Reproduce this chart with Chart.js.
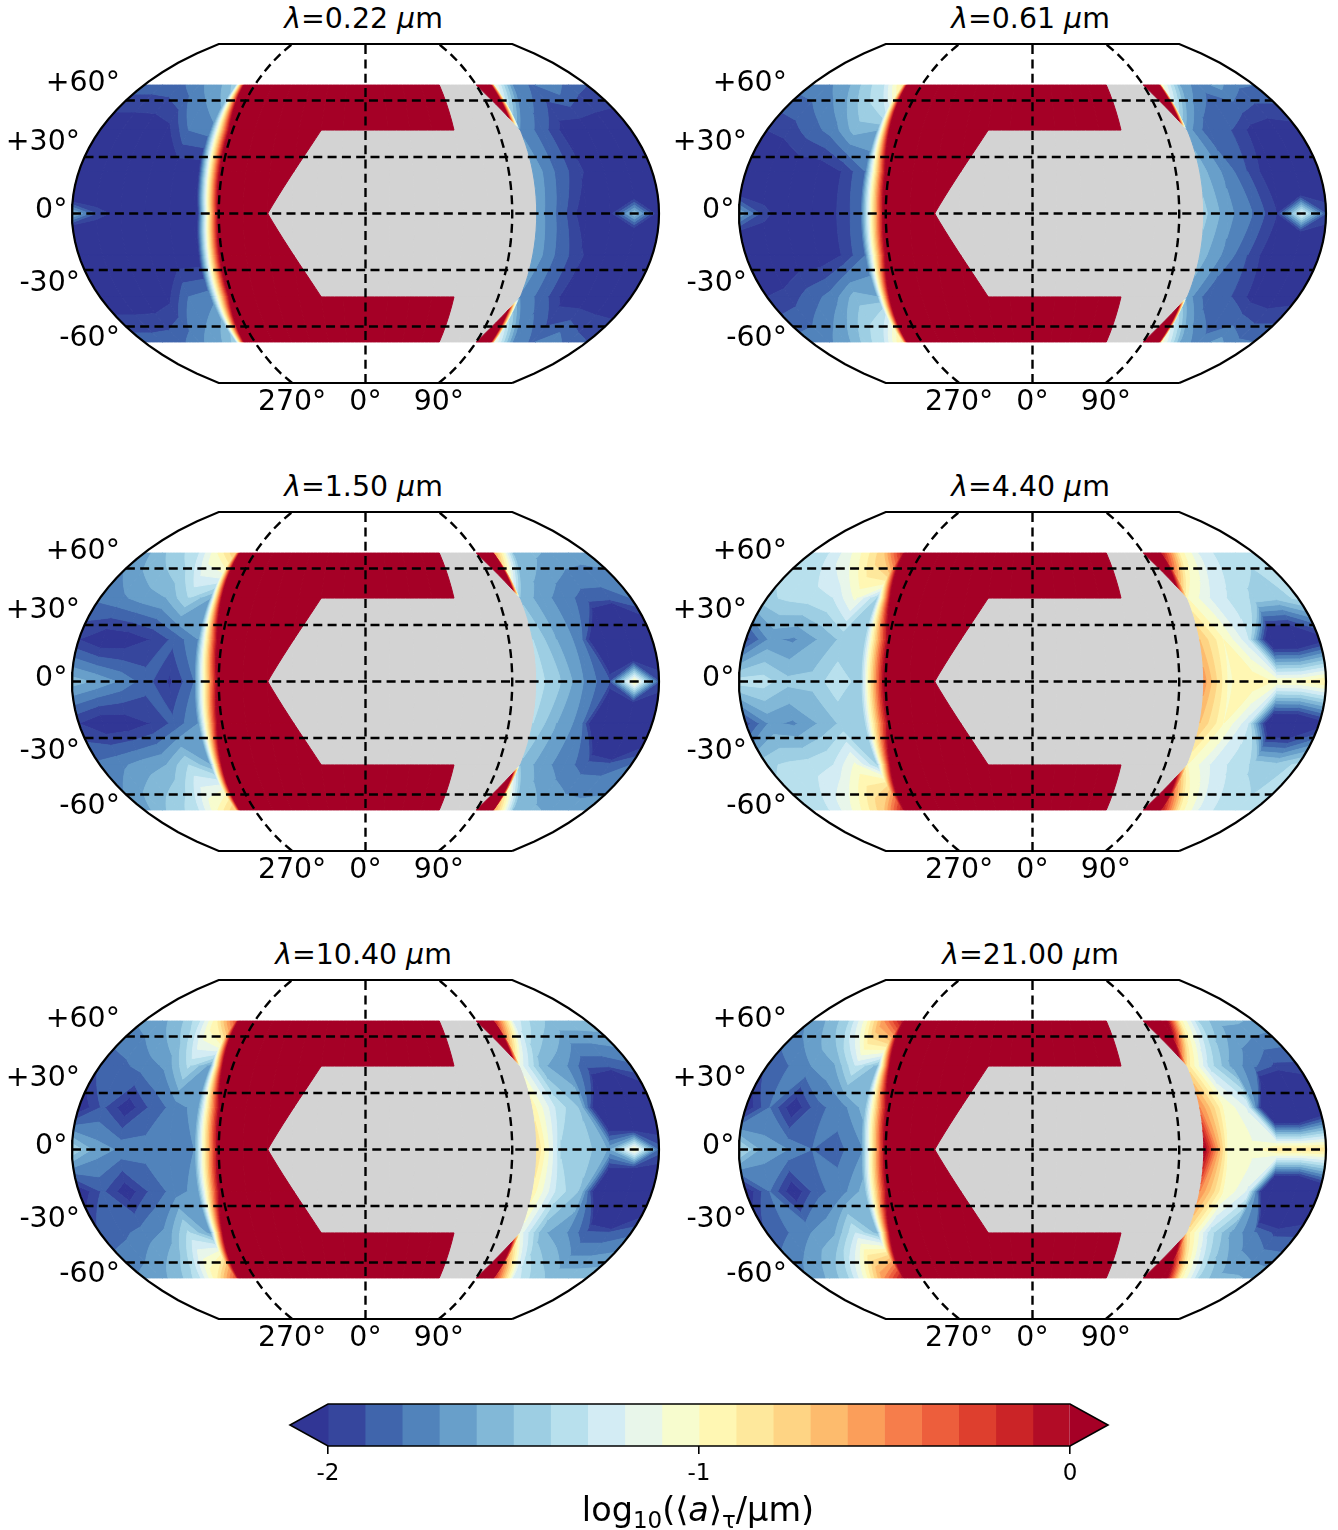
<!DOCTYPE html>
<html lang="en">
<head>
  <meta charset="UTF-8">
  <title>Grain size maps</title>
  <script src="https://cdn.jsdelivr.net/npm/chart.js"></script>
  <style>
    html, body { margin: 0; padding: 0; background: #fff; }
    body { position: relative; width: 1338px; height: 1530px; overflow: hidden; font-family: "DejaVu Sans", sans-serif; color: #000; }
    canvas { position: absolute; display: block; }
    .title { position: absolute; width: 667px; text-align: center; font-size: 28.4px; line-height: 32px; white-space: pre; }
    .cblabel { position: absolute; left: 270px; width: 856px; top: 1491px; text-align: center; font-size: 33.5px; line-height: 38px; white-space: nowrap; }
    .cblabel sub { font-size: 23px; line-height: 0; vertical-align: -7px; }
  </style>
</head>
<body>
<script>
// grid nodes of the model output
const lons = [-180, -165, -150, -135, -120, -105, -90, -75, -60, -45, -30, -15, 0, 15, 30, 45, 60, 75, 90, 105, 120, 135, 150, 165, 180];
const lats = [68.2, 44.3, 22.3, 0, -22.3, -44.3, -68.2];
const N = null; // no data, drawn grey
const R = 2;    // saturated dayside, above the top level

const wavelengths = ['0.22', '0.61', '1.50', '4.40', '10.40', '21.00'];

const levels = [-2, -1.9, -1.8, -1.7, -1.6, -1.5, -1.4, -1.3, -1.2, -1.1, -1, -0.9, -0.8, -0.7, -0.6, -0.5, -0.4, -0.3, -0.2, -0.1, 0];
const bandColors = ['rgb(54,70,157)', 'rgb(64,101,172)', 'rgb(81,131,187)', 'rgb(104,159,202)', 'rgb(130,184,215)',
  'rgb(157,206,227)', 'rgb(184,224,237)', 'rgb(211,236,244)', 'rgb(232,246,234)', 'rgb(247,252,206)',
  'rgb(255,247,179)', 'rgb(254,232,156)', 'rgb(254,212,132)', 'rgb(253,187,109)', 'rgb(251,158,90)',
  'rgb(246,125,75)', 'rgb(237,94,60)', 'rgb(222,63,46)', 'rgb(203,36,39)', 'rgb(178,12,38)'];
const underColor = 'rgb(49,54,149)';
const overColor = 'rgb(165,0,38)';

const parallels = [60, 30, 0, -30, -60];
const meridians = [-90, 0, 90];
const meridianLabels = ['270°', '0°', '90°'];
const latLabels = ['+60°', '+30°', '0°', '-30°', '-60°'];
const cbTicks = [-2, -1, 0];

// lambda = 0.22
const a_r68 = [-1.85, -1.85, -1.83, -1.72, -1.65, -1.45, 2, R, R, R, R, R, R, R, R, R, R, N, 4, -1.1, -1.72, -1.82, -1.72, -1.85, -1.9];
const a_r44 = [-2.1, -2.1, -2.1, -2.05, -1.8, -1.75, 0.3, R, R, R, R, R, R, R, R, R, R, N, N, -1.72, -1.85, -2.05, -2.1, -2.1, -2.1];
const a_r22 = [-3.2, -2.6, -2.1, -2.1, -2.1, -2.1, 0.2, R, R, R, N, N, N, N, N, N, N, N, N, -1.62, -1.82, -1.98, -2.15, -3, -2.5];
const a_r0 = [-1.55, -1.9, -2.1, -2.1, -2.1, -2.4, 0.05, R, R, N, N, N, N, N, N, N, N, N, N, -1.63, -1.85, -2.1, -2.05, -1.5, -2.1];

// lambda = 0.61
const b_r68 = [-1.75, -1.72, -1.63, -1.45, -1.3, -0.85, 3.2, R, R, R, R, R, R, R, R, R, R, N, 6, -1.05, -1.6, -1.78, -1.66, -1.78, -1.8];
const b_r44 = [-2, -1.95, -1.85, -1.75, -1.55, -1.6, 1.3, R, R, R, R, R, R, R, R, R, R, N, N, -1.65, -1.88, -1.9, -2.05, -2.08, -2.05];
const b_r22 = [-2.6, -2.2, -2.1, -2.1, -2, -1.8, 0.3, R, R, R, N, N, N, N, N, N, N, N, N, -1.55, -1.72, -1.9, -2.1, -3.1, -2.3];
const b_r0 = [-1.6, -1.95, -2.1, -2.1, -2, -1.82, 0.15, R, R, N, N, N, N, N, N, N, N, N, N, -1.47, -1.67, -1.8, -2, -1.2, -1.9];

// lambda = 1.50
const c_r68 = [-1.65, -1.52, -1.43, -1.3, -1, -0.7, 3, R, R, R, R, R, R, R, R, R, R, N, 6, -0.6, -1.5, -1.58, -1.62, -1.65, -1.65];
const c_r44 = [-1.78, -1.72, -1.65, -1.6, -1.4, -1.6, 1.5, R, R, R, R, R, R, R, R, R, R, N, N, -1.52, -1.66, -1.76, -1.85, -1.85, -1.8];
const c_r22 = [-2, -2.1, -2.08, -2, -1.87, -1.7, 0.4, R, R, R, N, N, N, N, N, N, N, N, N, -1.4, -1.6, -1.75, -2.5, -3.15, -2.3];
const c_r0 = [-1.55, -1.62, -1.72, -1.85, -2.02, -1.8, 0.1, R, R, N, N, N, N, N, N, N, N, N, N, -1.35, -1.5, -1.72, -1.9, -0.95, -1.9];

// lambda = 4.40
const d_r68 = [-1.35, -1.3, -1.15, -0.95, -0.7, -0.1, 2, R, R, R, R, R, R, R, R, R, R, N, 2.5, -0.1, -0.95, -1.2, -1.33, -1.37, -1.35];
const d_r44 = [-1.42, -1.38, -1.35, -1.3, -1.08, -1.42, 1, R, R, R, R, R, R, R, R, R, R, N, N, -1, -1.2, -1.33, -1.42, -1.47, -1.37];
const d_r22 = [-1.95, -1.68, -1.72, -1.6, -1.48, -1.42, 0.05, R, R, R, N, N, N, N, N, N, N, N, N, -0.7, -1, -1.27, -2.3, -2.3, -2.1];
const d_r0 = [-1.35, -1.35, -1.47, -1.47, -1.33, -1.45, 0.1, R, R, N, N, N, N, N, N, N, N, N, N, -0.55, -1.02, -0.92, -1.02, -1, -0.9];

// lambda = 10.40
const e_r68 = [-1.68, -1.63, -1.53, -1.33, -0.9, -0.3, 2.5, R, R, R, R, R, R, R, R, R, R, N, 4, -0.2, -1.22, -1.43, -1.53, -1.53, -1.53];
const e_r44 = [-1.88, -1.83, -1.75, -1.68, -1.38, -1.65, 1.3, R, R, R, R, R, R, R, R, R, R, N, N, -1.15, -1.58, -1.68, -1.88, -1.88, -1.83];
const e_r22 = [-2.1, -1.88, -2.08, -1.88, -1.76, -1.65, 0.2, R, R, R, N, N, N, N, N, N, N, N, N, -0.95, -1.33, -1.52, -2.5, -3.3, -2.3];
const e_r0 = [-1.4, -1.65, -1.72, -1.76, -1.76, -1.7, 0.05, R, R, N, N, N, N, N, N, N, N, N, N, -0.8, -1.42, -1.46, -1.62, -1, -1.85];

// lambda = 21.00
const f_r68 = [-1.68, -1.58, -1.43, -1.05, -0.5, -0.05, 2, R, R, R, R, R, R, R, R, R, R, N, 3, 0.4, -0.95, -1.4, -1.58, -1.58, -1.63];
const f_r44 = [-1.88, -1.8, -1.7, -1.63, -1.3, -1.55, 1.2, R, R, R, R, R, R, R, R, R, R, N, N, -0.85, -1.35, -1.63, -1.78, -1.93, -1.93];
const f_r22 = [-2.1, -1.8, -2.1, -1.83, -1.75, -1.55, 0.15, R, R, R, N, N, N, N, N, N, N, N, N, -0.5, -1, -1.22, -2.7, -2.7, -2.3];
const f_r0 = [-1.35, -1.65, -1.7, -1.8, -1.84, -1.72, 0.05, R, R, N, N, N, N, N, N, N, N, N, N, 0.05, -1.05, -1.07, -0.85, -0.85, -0.85];

const fields = [
  [a_r68, a_r44, a_r22, a_r0, a_r22, a_r44, a_r68],
  [b_r68, b_r44, b_r22, b_r0, b_r22, b_r44, b_r68],
  [c_r68, c_r44, c_r22, c_r0, c_r22, c_r44, c_r68],
  [d_r68, d_r44, d_r22, d_r0, d_r22, d_r44, d_r68],
  [e_r68, e_r44, e_r22, e_r0, e_r22, e_r44, e_r68],
  [f_r68, f_r44, f_r22, f_r0, f_r22, f_r44, f_r68]
];

Chart.defaults.font.family = '"DejaVu Sans", sans-serif';
Chart.defaults.color = '#000';
Chart.defaults.animation = false;

// Kavrayskiy VII, x scaled to -1..1, y stays in degrees
const projX = (lon, lat) => lon / 180 * Math.sqrt(1 - 3 * Math.pow(lat / 180, 2));

const polyPath = (ctx, chart, pts) => {
  const sx = chart.scales.x, sy = chart.scales.y;
  ctx.beginPath();
  pts.forEach((p, i) => {
    const q = pts[(i + 1) % pts.length];
    for (let k = 0; k < 5; k++) {
      const lon = p.lon + (q.lon - p.lon) * k / 5;
      const lat = p.lat + (q.lat - p.lat) * k / 5;
      const px = sx.getPixelForValue(projX(lon, lat));
      const py = sy.getPixelForValue(lat);
      if (i === 0 && k === 0) ctx.moveTo(px, py); else ctx.lineTo(px, py);
    }
  });
  ctx.closePath();
};

// part of a cell that lies inside one colour band, walking round its corners
const bandPolygon = (corners, lo, hi) => {
  const out = [];
  corners.forEach((a, i) => {
    const b = corners[(i + 1) % corners.length];
    if (a.v >= lo && a.v <= hi) out.push(a);
    const cuts = a.v < b.v ? [lo, hi] : [hi, lo];
    cuts.forEach(c => {
      if (c > Math.min(a.v, b.v) && c < Math.max(a.v, b.v)) {
        const t = (c - a.v) / (b.v - a.v);
        out.push({ lon: a.lon + (b.lon - a.lon) * t, lat: a.lat + (b.lat - a.lat) * t });
      }
    });
  });
  return out;
};

const fillPoly = (ctx, chart, pts, color) => {
  polyPath(ctx, chart, pts);
  ctx.fillStyle = color;
  ctx.strokeStyle = color;
  ctx.lineWidth = 1;
  ctx.lineJoin = 'round';
  ctx.stroke();
  ctx.fill();
};

const contourPlugin = {
  id: 'contourBands',
  beforeDatasetsDraw(chart, args, opts) {
    const ctx = chart.ctx, rows = opts.rows;
    const bands = [[-Infinity, levels[0], underColor]];
    bandColors.forEach((c, i) => bands.push([levels[i], levels[i + 1], c]));
    bands.push([levels[levels.length - 1], Infinity, overColor]);
    ctx.save();
    const cells = [];
    for (let j = 0; j < lats.length - 1; j++) {
      for (let i = 0; i < lons.length - 1; i++) {
        cells.push([
          { lon: lons[i], lat: lats[j], v: rows[j][i] },
          { lon: lons[i + 1], lat: lats[j], v: rows[j][i + 1] },
          { lon: lons[i + 1], lat: lats[j + 1], v: rows[j + 1][i + 1] },
          { lon: lons[i], lat: lats[j + 1], v: rows[j + 1][i] }
        ]);
      }
    }
    // missing data first, the valid part of a cell goes on top
    cells.filter(c => c.some(p => p.v === null)).forEach(c => fillPoly(ctx, chart, c, '#d3d3d3'));
    cells.forEach(c => {
      const valid = c.filter(p => p.v !== null);
      if (valid.length < 3) return;
      bands.forEach(([lo, hi, color]) => {
        const poly = bandPolygon(valid, lo, hi);
        if (poly.length >= 3) fillPoly(ctx, chart, poly, color);
      });
    });
    ctx.restore();
  }
};

// latitude labels sit off their grid lines, as in the original figure
const latLabelPlugin = {
  id: 'latLabelText',
  afterDatasetsDraw(chart) {
    const ctx = chart.ctx, sy = chart.scales.y, sx = chart.scales.x;
    const right = [-0.8165, -0.9525, -0.9955, -0.9525, -0.8165];
    const dy = [-17, -14.5, -2.5, 14, 12.5];
    ctx.save();
    ctx.font = '28.4px "DejaVu Sans"';
    ctx.fillStyle = '#000';
    ctx.textAlign = 'right';
    ctx.textBaseline = 'middle';
    parallels.forEach((lat, i) => {
      ctx.fillText(latLabels[i], sx.getPixelForValue(right[i]) - 6, sy.getPixelForValue(lat) + dy[i]);
    });
    ctx.restore();
  }
};

function lineData(lon) {
  const pts = [];
  for (let lat = -90; lat <= 90; lat += 5) pts.push({ x: projX(lon, lat), y: lat });
  return pts;
}

function makePanel(idx) {
  const col = idx % 2, row = Math.floor(idx / 2);
  const left = col * 667, top = row * 468;

  const title = document.createElement('div');
  title.className = 'title';
  title.style.left = (left + 30) + 'px';
  title.style.top = (top + 3) + 'px';
  title.innerHTML = '<i>λ</i>=' + wavelengths[idx] + ' <i>μ</i>m';
  document.body.appendChild(title);

  const cv = document.createElement('canvas');
  cv.width = 667; cv.height = 468;
  cv.style.left = left + 'px';
  cv.style.top = top + 'px';
  cv.style.width = '667px';
  cv.style.height = '468px';
  document.body.appendChild(cv);

  const grid = { borderColor: '#000', borderWidth: 2.4, borderDash: [9, 5.3], pointRadius: 0, showLine: true, clip: false, tension: 0 };
  const datasets = [];
  parallels.forEach(lat => {
    const f = projX(180, lat);
    datasets.push({ ...grid, label: lat + ' parallel', data: [{ x: -f, y: lat }, { x: f, y: lat }] });
  });
  meridians.forEach(lon => datasets.push({ ...grid, label: lon + ' meridian', data: lineData(lon) }));
  const edge = lineData(180).concat(lineData(-180).reverse());
  edge.push(edge[0]);
  datasets.push({ label: 'boundary', data: edge, borderColor: '#000', borderWidth: 2.2, pointRadius: 0, showLine: true, clip: false, tension: 0 });

  new Chart(cv, {
    type: 'scatter',
    data: { datasets },
    plugins: [contourPlugin, latLabelPlugin],
    options: {
      responsive: false,
      layout: { padding: { left: 72, right: 8, top: 44, bottom: 0 } },
      plugins: {
        legend: { display: false },
        tooltip: { enabled: false },
        contourBands: { rows: fields[idx] }
      },
      scales: {
        x: {
          type: 'linear', min: -1, max: 1,
          grid: { display: false, drawTicks: false },
          border: { display: false },
          afterBuildTicks: s => { s.ticks = meridians.map(m => ({ value: projX(m, 90) })); },
          afterFit: s => { s.height = 85; },
          ticks: {
            autoSkip: false, maxRotation: 0, padding: 3,
            font: { size: 28.4 },
            callback: (v, i) => meridianLabels[i]
          }
        },
        y: { type: 'linear', min: -90, max: 90, display: false }
      }
    }
  });
}

wavelengths.forEach((w, i) => makePanel(i));

// colour bar
const cbPlugin = {
  id: 'cbExtend',
  afterDatasetsDraw(chart) {
    const ctx = chart.ctx, a = chart.chartArea;
    const x0 = chart.scales.x.getPixelForValue(levels[0]);
    const x1 = chart.scales.x.getPixelForValue(levels[levels.length - 1]);
    const my = (a.top + a.bottom) / 2;
    ctx.save();
    ctx.fillStyle = underColor;
    ctx.beginPath(); ctx.moveTo(x0 + 0.5, a.top); ctx.lineTo(x0 - 38, my); ctx.lineTo(x0 + 0.5, a.bottom); ctx.closePath(); ctx.fill();
    ctx.fillStyle = overColor;
    ctx.beginPath(); ctx.moveTo(x1 - 0.5, a.top); ctx.lineTo(x1 + 38, my); ctx.lineTo(x1 - 0.5, a.bottom); ctx.closePath(); ctx.fill();
    ctx.strokeStyle = '#000';
    ctx.lineWidth = 1.6;
    ctx.beginPath();
    ctx.moveTo(x0, a.top); ctx.lineTo(x1, a.top); ctx.lineTo(x1 + 38, my); ctx.lineTo(x1, a.bottom);
    ctx.lineTo(x0, a.bottom); ctx.lineTo(x0 - 38, my); ctx.closePath();
    ctx.stroke();
    ctx.restore();
  }
};

const cbCanvas = document.createElement('canvas');
cbCanvas.width = 860; cbCanvas.height = 100;
cbCanvas.style.left = '270px';
cbCanvas.style.top = '1390px';
cbCanvas.style.width = '860px';
cbCanvas.style.height = '100px';
document.body.appendChild(cbCanvas);

new Chart(cbCanvas, {
  type: 'bar',
  data: {
    labels: [''],
    datasets: bandColors.map((c, i) => ({ data: [[levels[i], levels[i + 1]]], backgroundColor: c, borderWidth: 0 }))
  },
  plugins: [cbPlugin],
  options: {
    indexAxis: 'y',
    responsive: false,
    layout: { padding: { left: 58, right: 60, top: 14, bottom: 0 } },
    datasets: { bar: { grouped: false, barPercentage: 1, categoryPercentage: 1 } },
    plugins: { legend: { display: false }, tooltip: { enabled: false } },
    scales: {
      x: {
        type: 'linear', min: -2, max: 0,
        grid: { drawOnChartArea: false, drawTicks: true, tickLength: 8, color: '#000', lineWidth: 1.6 },
        border: { display: false },
        afterBuildTicks: s => { s.ticks = cbTicks.map(v => ({ value: v })); },
        afterFit: s => { s.height = 44; },
        ticks: { autoSkip: false, maxRotation: 0, padding: 6, font: { size: 23 }, callback: v => String(v) }
      },
      y: { display: false }
    }
  }
});

const cbLabel = document.createElement('div');
cbLabel.className = 'cblabel';
cbLabel.innerHTML = 'log<sub>10</sub>(⟨<i>a</i>⟩<sub>τ</sub>/μm)';
document.body.appendChild(cbLabel);
</script>
</body>
</html>
